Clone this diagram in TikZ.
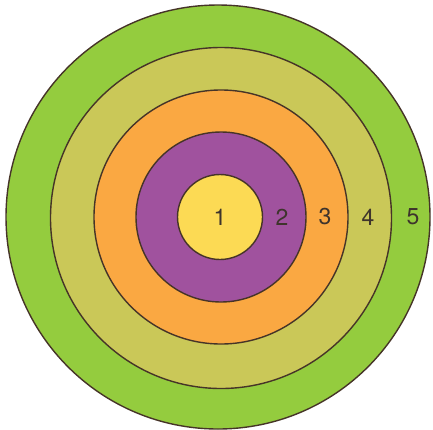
\documentclass[tikz,border=0pt]{standalone}
\usepackage{fontspec}
\setsansfont{TeX Gyre Heros}
\usepackage{tikz}
\usetikzlibrary{positioning}
\definecolor{ringgreen}{RGB}{148,204,62}
\definecolor{ringolive}{RGB}{202,200,88}
\definecolor{ringorange}{RGB}{250,168,66}
\definecolor{ringpurple}{RGB}{160,82,158}
\definecolor{ringyellow}{RGB}{252,218,84}
\definecolor{ringline}{RGB}{70,52,40}
\definecolor{ringtext}{RGB}{62,52,44}

\begin{document}
\begin{tikzpicture}[
    x=1pt, y=-1pt,
    ring/.style={circle, draw=ringline, line width=1.4pt, inner sep=0pt},
    num/.style={font=\fontsize{23}{23}\selectfont\sffamily, text=ringtext, inner sep=0pt},
]
    \useasboundingbox[fill=white] (0,0) rectangle (433,429);
    \node[ring, fill=ringgreen, minimum size=424pt] (r5) at (218,217) {};
    \node[ring, fill=ringolive, minimum size=341pt] (r4) at (221,218) {};
    \node[ring, fill=ringorange, minimum size=254pt] (r3) at (221,217) {};
    \node[ring, fill=ringpurple, minimum size=170pt] (r2) at (221,217) {};
    \node[ring, fill=ringyellow, minimum size=85pt] (r1) at (220,217) {};

    \node[num] (n1) at (220,217) {1};
    \node[num] (n2) at (282,217) {2};
    \node[num] (n3) at (325,217) {3};
    \node[num] (n4) at (368,217) {4};
    \node[num] (n5) at (413,217) {5};
\end{tikzpicture}
\end{document}
